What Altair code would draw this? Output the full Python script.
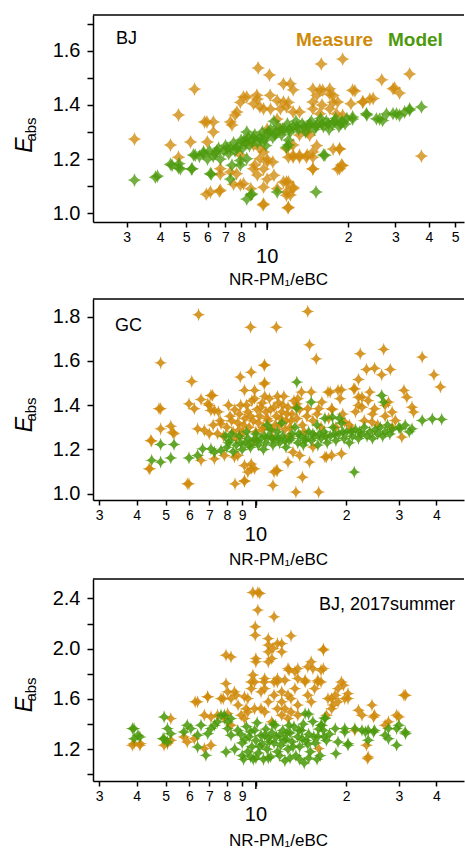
import altair as alt
import pandas as pd

FONT = "Liberation Sans"
ORANGE = "#D08A0A"
GREEN = "#4C9A0C"

# ---------------- Panel 1: BJ ----------------
bj_measure = [
    (3.21, 1.274), (4.37, 1.252), (4.68, 1.363), (5.37, 1.459), (5.19, 1.263), (4.68, 1.207),
    (5.94, 1.070), (6.64, 1.081), (5.85, 1.337), (6.31, 1.337), (6.31, 1.300), (6.69, 1.144),
    (9.26, 1.537), (10.2, 1.511), (9.66, 1.030), (11.96, 1.019), (15.9, 1.552), (19.1, 1.570),
    (26.7, 1.493), (33.9, 1.515), (29.8, 1.463), (31.1, 1.444), (37.5, 1.211), (21.2, 1.452),
    (24.1, 1.422), (22.7, 1.411), (18.6, 1.237), (18.9, 1.178), (18.3, 1.163), (14.8, 1.411),
    (15.7, 1.456), (17.1, 1.440), (16.0, 1.400), (17.6, 1.410), (14.8, 1.163), (11.5, 1.478),
    (12.5, 1.456), (12.0, 1.410), (13.2, 1.374), (9.4, 1.393), (10.3, 1.385), (10.9, 1.348),
    (8.4, 1.430), (9.2, 1.422), (7.95, 1.410), (7.6, 1.363), (7.4, 1.326), (11.2, 1.311),
    (10.0, 1.311), (10.0, 1.200), (10.5, 1.189), (9.7, 1.163), (10.0, 1.126), (9.7, 1.096),
    (12.0, 1.207), (12.5, 1.207), (13.2, 1.207), (14.1, 1.215), (14.8, 1.207), (12.0, 1.115),
    (12.5, 1.096), (12.2, 1.067), (9.0, 1.178), (9.2, 1.141), (7.5, 1.107), (7.95, 1.104),
    (7.3, 1.152), (14.1, 1.300), (13.2, 1.289), (12.5, 1.252), (17.6, 1.237), (8.9, 1.252),
    (9.7, 1.226), (7.95, 1.215), (5.99, 1.263), (5.97, 1.337), (7.72, 1.374), (8.17, 1.430),
    (9.16, 1.436), (8.9, 1.405), (9.7, 1.386), (10.26, 1.436), (10.9, 1.417), (11.5, 1.411),
    (11.2, 1.386), (7.3, 1.337), (6.15, 1.078), (6.7, 1.085), (8.17, 1.109), (8.7, 1.090),
    (9.7, 1.034), (8.9, 1.164), (9.4, 1.201), (10.0, 1.189), (10.6, 1.140), (11.5, 1.115),
    (10.9, 1.090), (11.8, 1.066), (6.7, 1.164), (7.7, 1.146), (8.4, 1.263), (9.4, 1.238),
    (12.2, 1.479), (14.8, 1.460), (15.3, 1.436), (16.1, 1.455), (17.1, 1.460), (17.6, 1.436),
    (18.3, 1.411), (20.8, 1.455), (22.7, 1.411), (24.8, 1.424), (20.5, 1.405), (29.4, 1.460),
    (11.8, 1.393), (12.5, 1.374), (14.8, 1.386), (15.7, 1.368), (17.1, 1.386), (18.1, 1.368),
    (19.1, 1.362), (14.4, 1.288), (11.8, 1.238), (12.5, 1.214), (13.2, 1.214), (14.0, 1.207),
    (14.8, 1.226), (15.3, 1.250), (18.6, 1.238), (19.1, 1.176), (18.6, 1.164), (14.8, 1.164),
    (11.8, 1.115), (12.5, 1.090), (11.8, 1.078), (12.0, 1.022),
]
bj_model = [
    (3.21, 1.122), (3.91, 1.137), (3.84, 1.133), (4.37, 1.181), (4.43, 1.177), (4.68, 1.167),
    (4.7, 1.183), (4.76, 1.164), (5.23, 1.163), (5.26, 1.164), (5.32, 1.215), (5.4, 1.214),
    (5.8, 1.226), (6.2, 1.144), (6.15, 1.146), (7.3, 1.126), (7.4, 1.177), (7.95, 1.195),
    (8.4, 1.201), (8.4, 1.052), (8.7, 1.067), (8.77, 1.071), (7.95, 1.178), (10.9, 1.078),
    (15.2, 1.078), (12.0, 1.252), (11.8, 1.244), (16.2, 1.215), (16.4, 1.214),
    (20.8, 1.348), (20.8, 1.356), (23.5, 1.363), (23.4, 1.368), (25.5, 1.349), (26.2, 1.348),
    (26.9, 1.343), (27.8, 1.367), (29.4, 1.368), (30.3, 1.367), (31.1, 1.362), (32.5, 1.374),
    (33.9, 1.381), (33.9, 1.386), (37.5, 1.393),
    (5.6, 1.21), (5.8, 1.22), (6.0, 1.20), (6.1, 1.23), (6.3, 1.21), (6.4, 1.22), (6.6, 1.24),
    (6.7, 1.20), (6.9, 1.23), (7.0, 1.25), (7.2, 1.22), (7.3, 1.24), (7.5, 1.26), (7.6, 1.23),
    (7.8, 1.25), (8.0, 1.27), (8.1, 1.24), (8.3, 1.26), (8.5, 1.28), (8.6, 1.25), (8.8, 1.27),
    (9.0, 1.29), (9.2, 1.26), (9.4, 1.28), (9.6, 1.30), (9.8, 1.27), (10.0, 1.29), (10.3, 1.31),
    (10.5, 1.28), (10.8, 1.30), (11.0, 1.32), (11.3, 1.29), (11.6, 1.31), (11.9, 1.33),
    (12.2, 1.30), (12.5, 1.32), (12.8, 1.34), (13.1, 1.31), (13.5, 1.33), (13.9, 1.30),
    (14.2, 1.32), (14.6, 1.34), (15.0, 1.31), (15.4, 1.33), (15.8, 1.35), (16.2, 1.32),
    (16.6, 1.34), (17.0, 1.31), (17.5, 1.33), (18.0, 1.35), (18.5, 1.32), (19.0, 1.34),
    (19.5, 1.33), (9.9, 1.25), (10.6, 1.34), (8.4, 1.30), (12.0, 1.27),
    (6.5, 1.23), (7.1, 1.24), (7.7, 1.24), (8.2, 1.27), (8.9, 1.28), (9.5, 1.27), (10.1, 1.30),
    (10.7, 1.29), (11.4, 1.31), (12.1, 1.31), (12.9, 1.32), (13.7, 1.32), (14.4, 1.33),
    (15.2, 1.32), (16.0, 1.33), (16.9, 1.33), (17.8, 1.34), (18.8, 1.33), (19.8, 1.35),
]

# ---------------- Panel 2: GC ----------------
gc_measure = [
    (6.44, 1.808), (9.6, 1.752), (11.7, 1.752), (14.9, 1.823), (15.1, 1.672), (15.9, 1.609),
    (4.81, 1.591), (6.11, 1.507), (4.81, 1.384), (4.81, 1.293), (4.49, 1.238), (4.43, 1.113),
    (5.2, 1.305), (5.33, 1.271), (5.98, 1.406), (6.23, 1.384), (6.56, 1.426), (7.17, 1.444),
    (6.99, 1.399), (7.27, 1.376), (6.39, 1.293), (6.99, 1.271), (5.98, 1.045), (8.52, 1.045),
    (9.16, 1.056), (9.65, 1.135), (9.4, 1.098), (9.9, 1.113), (8.87, 1.527), (9.65, 1.549),
    (9.16, 1.467), (9.9, 1.467), (10.7, 1.582), (10.7, 1.501), (11.5, 1.098), (11.4, 1.038),
    (13.6, 1.008), (14.3, 1.075), (16.2, 1.008), (15.1, 1.143), (17.9, 1.173), (17.2, 1.166),
    (19.3, 1.181), (22.3, 1.632), (26.7, 1.652), (23.4, 1.561), (24.9, 1.567), (28.1, 1.561),
    (26.3, 1.537), (22.0, 1.516), (21.4, 1.474), (35.9, 1.617), (39.3, 1.537), (41.3, 1.482),
    (31.2, 1.467), (31.9, 1.436), (33.2, 1.391), (33.6, 1.369), (30.7, 1.256), (18.8, 1.467),
    (17.4, 1.459), (16.6, 1.414), (17.9, 1.384), (16.2, 1.384), (22.6, 1.436), (23.7, 1.421),
    (22.6, 1.391), (24.9, 1.384), (27.0, 1.399), (28.5, 1.369), (19.8, 1.324), (20.9, 1.293),
    (24.4, 1.324), (14.2, 1.459), (15.3, 1.459), (13.7, 1.406), (14.9, 1.384), (13.3, 1.188),
    (14.0, 1.173), (15.5, 1.211), (11.8, 1.105), (12.8, 1.143), (17.0, 1.166), (5.9, 1.045),
    (9.16, 1.060), (11.7, 1.106), (9.65, 1.113), (9.16, 1.128), (8.7, 1.173), (8.48, 1.166),
    (4.46, 1.241), (4.4, 1.113), (6.56, 1.151), (7.27, 1.158), (7.85, 1.173), (6.73, 1.286),
    (7.45, 1.271), (7.65, 1.316), (7.08, 1.376), (6.91, 1.406), (7.08, 1.444), (4.75, 1.384),
    (5.27, 1.278), (10.66, 1.579), (10.66, 1.496), (24.0, 1.459), (22.0, 1.436), (27.7, 1.414),
    (29.2, 1.331), (22.0, 1.399), (21.2, 1.474), (19.3, 1.469), (19.1, 1.429), (17.7, 1.459),
    (13.8, 1.429),
    (8.0, 1.30), (8.2, 1.35), (8.4, 1.28), (8.5, 1.38), (8.7, 1.32), (8.9, 1.40), (9.0, 1.27),
    (9.2, 1.34), (9.4, 1.37), (9.5, 1.30), (9.7, 1.42), (9.8, 1.33), (10.0, 1.28), (10.1, 1.38),
    (10.3, 1.35), (10.5, 1.41), (10.6, 1.30), (10.8, 1.37), (11.0, 1.33), (11.1, 1.43),
    (11.3, 1.29), (11.5, 1.39), (11.7, 1.35), (11.9, 1.41), (12.0, 1.31), (12.2, 1.37),
    (12.4, 1.44), (12.6, 1.33), (12.8, 1.39), (13.0, 1.30), (13.2, 1.36), (13.4, 1.42),
    (13.7, 1.34), (14.0, 1.38), (14.3, 1.31), (7.6, 1.33), (7.8, 1.26), (8.6, 1.25), (9.9, 1.24),
    (11.4, 1.25), (12.9, 1.26), (14.5, 1.28), (15.5, 1.33), (16.5, 1.30), (17.5, 1.34),
    (18.5, 1.30), (19.5, 1.36), (20.5, 1.31), (21.5, 1.37), (23.0, 1.33), (24.5, 1.36),
    (25.5, 1.31), (27.0, 1.35), (28.5, 1.30), (16.0, 1.36), (18.0, 1.38),
    (8.3, 1.33), (8.8, 1.36), (9.1, 1.31), (9.3, 1.40), (9.6, 1.35), (10.2, 1.32), (10.4, 1.39),
    (10.9, 1.34), (11.2, 1.38), (11.6, 1.31), (12.1, 1.34), (12.3, 1.40), (12.7, 1.36),
    (13.1, 1.33), (13.6, 1.39), (8.1, 1.40), (9.9, 1.43), (10.7, 1.44), (11.8, 1.44),
    (8.8, 1.29), (10.5, 1.29), (12.5, 1.29), (7.2, 1.31), (7.5, 1.37), (14.8, 1.35),
]
gc_model = [
    (4.49, 1.151), (4.81, 1.143), (4.81, 1.223), (5.33, 1.223), (5.2, 1.162), (5.98, 1.162),
    (6.39, 1.173), (6.64, 1.203), (7.08, 1.203), (7.27, 1.188), (7.65, 1.196), (13.7, 1.504),
    (13.7, 1.387), (15.3, 1.414), (26.3, 1.444), (26.7, 1.414), (21.3, 1.098), (35.9, 1.331),
    (38.8, 1.338), (41.7, 1.336), (30.3, 1.293), (33.2, 1.293), (18.0, 1.346),
    (8.0, 1.21), (8.2, 1.24), (8.4, 1.19), (8.6, 1.22), (8.8, 1.26), (9.0, 1.20), (9.2, 1.23),
    (9.4, 1.25), (9.6, 1.21), (9.8, 1.24), (10.0, 1.27), (10.2, 1.22), (10.4, 1.25), (10.6, 1.20),
    (10.8, 1.23), (11.0, 1.26), (11.2, 1.29), (11.4, 1.22), (11.6, 1.25), (11.8, 1.28),
    (12.0, 1.23), (12.3, 1.26), (12.6, 1.21), (12.9, 1.24), (13.2, 1.27), (13.5, 1.30),
    (13.8, 1.23), (14.1, 1.26), (14.4, 1.22), (14.7, 1.25), (15.0, 1.28), (15.3, 1.24),
    (15.7, 1.26), (16.1, 1.22), (16.5, 1.25), (16.9, 1.28), (17.3, 1.23), (17.7, 1.26),
    (18.1, 1.30), (18.5, 1.24), (18.9, 1.27), (19.3, 1.32), (19.7, 1.25), (20.1, 1.28),
    (20.5, 1.23), (21.0, 1.26), (21.5, 1.29), (22.0, 1.25), (22.5, 1.27), (23.0, 1.30),
    (23.5, 1.26), (24.0, 1.28), (24.5, 1.25), (25.0, 1.29), (25.5, 1.27), (26.0, 1.30),
    (26.5, 1.26), (27.0, 1.28), (27.5, 1.31), (28.0, 1.27), (28.5, 1.29), (30.0, 1.30),
    (31.5, 1.31), (32.5, 1.28), (9.3, 1.28), (10.9, 1.31), (12.2, 1.32), (16.0, 1.31),
    (17.0, 1.34), (19.0, 1.34), (7.9, 1.26), (8.3, 1.27),
    (8.1, 1.23), (8.9, 1.23), (9.5, 1.22), (10.1, 1.24), (10.7, 1.26), (11.3, 1.25),
    (11.9, 1.25), (12.5, 1.24), (13.1, 1.25), (13.9, 1.27), (14.6, 1.24), (15.5, 1.27),
    (16.3, 1.27), (17.1, 1.26), (18.3, 1.27), (19.5, 1.28), (20.8, 1.28), (22.2, 1.28),
]

# ---------------- Panel 3: BJ, 2017summer ----------------
s17_measure = [
    (10.15, 2.448), (9.77, 2.448), (10.3, 2.440), (10.15, 2.308), (11.5, 2.254), (13.1, 2.103),
    (9.95, 2.175), (9.95, 2.108), (11.0, 2.081), (11.0, 2.029), (11.4, 2.002), (11.3, 1.922),
    (12.2, 2.041), (12.2, 1.975), (7.95, 1.949), (8.26, 1.935), (10.0, 1.922), (10.0, 1.896),
    (16.8, 1.997), (15.3, 1.896), (14.9, 1.856), (16.8, 1.842), (12.8, 1.842), (13.5, 1.816),
    (6.39, 1.577), (6.90, 1.617), (7.95, 1.723), (8.05, 1.657), (8.48, 1.657), (7.65, 1.603),
    (8.26, 1.603), (8.59, 1.630), (9.4, 1.603), (9.28, 1.523), (9.65, 1.736), (9.77, 1.790),
    (8.72, 1.551), (8.93, 1.471), (10.7, 1.763), (10.7, 1.683), (11.0, 1.577), (10.7, 1.497),
    (10.4, 1.523), (11.8, 1.736), (12.2, 1.657), (12.2, 1.577), (12.5, 1.523), (12.8, 1.630),
    (13.1, 1.603), (12.8, 1.444), (13.1, 1.497), (13.8, 1.551), (13.8, 1.471), (13.8, 1.842),
    (13.8, 1.763), (13.5, 1.683), (14.6, 1.736), (14.9, 1.630), (15.3, 1.577), (15.7, 1.683),
    (16.1, 1.749), (16.5, 1.736), (17.9, 1.603), (18.4, 1.630), (18.8, 1.683), (19.6, 1.710),
    (20.3, 1.603), (17.9, 1.523), (18.8, 1.577), (17.2, 1.471), (16.2, 1.205), (22.6, 1.471),
    (24.4, 1.551), (24.7, 1.457), (27.0, 1.391), (31.2, 1.630), (30.0, 1.457), (23.4, 1.232),
    (23.6, 1.125), (21.4, 1.351), (6.23, 1.284), (5.9, 1.258), (7.08, 1.232), (6.73, 1.205),
    (5.07, 1.245), (4.94, 1.232), (5.2, 1.272), (5.2, 1.444), (3.92, 1.245), (4.12, 1.245),
    (8.26, 1.391), (7.85, 1.444), (7.08, 1.457), (7.45, 1.471), (11.8, 2.041), (16.8, 1.989),
    (15.5, 1.842), (16.5, 1.829), (12.9, 1.829), (12.5, 1.750), (11.8, 1.763), (14.6, 1.750),
    (16.1, 1.736), (19.3, 1.736), (20.3, 1.643), (19.8, 1.603), (17.4, 1.603), (18.1, 1.551),
    (22.0, 1.511), (24.9, 1.471), (29.5, 1.471), (31.6, 1.630), (23.7, 1.139), (27.7, 1.418),
    (3.87, 1.232), (4.1, 1.232), (5.75, 1.298), (6.27, 1.577), (6.91, 1.617), (7.78, 1.603),
    (9.16, 1.617), (9.4, 1.497), (9.16, 1.444), (9.9, 1.523), (9.9, 1.736), (10.66, 1.736),
    (11.5, 1.736), (9.65, 1.683), (10.4, 1.657), (11.5, 1.630), (11.8, 1.523), (11.3, 1.418),
    (12.2, 1.471), (6.73, 1.471), (8.05, 1.484), (11.0, 1.975), (11.0, 1.896),
]
s17_model = [
    (3.92, 1.364), (4.04, 1.312), (3.92, 1.284), (3.87, 1.364), (4.1, 1.298), (4.94, 1.457),
    (5.07, 1.364), (4.94, 1.284), (5.2, 1.324), (4.9, 1.284), (5.07, 1.258), (5.9, 1.391),
    (5.75, 1.338), (6.07, 1.364), (6.39, 1.218), (6.39, 1.312), (6.81, 1.152), (7.95, 1.178),
    (6.56, 1.391), (7.08, 1.364), (7.45, 1.418), (7.85, 1.471), (7.65, 1.471), (8.26, 1.444),
    (8.05, 1.364), (8.05, 1.418), (8.26, 1.312), (7.27, 1.391), (6.91, 1.324),
    (18.4, 1.364), (19.8, 1.338), (18.8, 1.258), (20.3, 1.245), (22.6, 1.351), (23.7, 1.351),
    (24.9, 1.351), (27.0, 1.312), (30.0, 1.391), (29.5, 1.232), (31.5, 1.338), (18.5, 1.165),
    (14.6, 1.484), (17.0, 1.444), (16.5, 1.391), (19.8, 1.364), (20.3, 1.232), (21.4, 1.364),
    (23.2, 1.338), (24.7, 1.338), (27.7, 1.364), (29.5, 1.364), (31.6, 1.324), (27.7, 1.284),
    (23.7, 1.272),
    (8.9, 1.32), (9.0, 1.25), (9.1, 1.12), (9.3, 1.38), (9.4, 1.18), (9.5, 1.30), (9.7, 1.22),
    (9.8, 1.12), (9.9, 1.35), (10.0, 1.27), (10.1, 1.41), (10.2, 1.17), (10.4, 1.31), (10.5, 1.24),
    (10.6, 1.12), (10.8, 1.36), (10.9, 1.20), (11.0, 1.29), (11.2, 1.14), (11.3, 1.33),
    (11.5, 1.25), (11.6, 1.39), (11.8, 1.18), (12.0, 1.31), (12.1, 1.23), (12.3, 1.35),
    (12.5, 1.11), (12.6, 1.28), (12.8, 1.20), (13.0, 1.33), (13.2, 1.26), (13.4, 1.38),
    (13.6, 1.15), (13.8, 1.30), (14.0, 1.22), (14.2, 1.35), (14.5, 1.09), (14.7, 1.27),
    (15.0, 1.32), (15.2, 1.18), (15.5, 1.42), (15.8, 1.25), (16.1, 1.30), (16.4, 1.15),
    (16.8, 1.35), (17.2, 1.27), (17.6, 1.32), (8.5, 1.20), (8.7, 1.35), (9.6, 1.14), (11.4, 1.40),
    (12.9, 1.39), (14.4, 1.40), (16.6, 1.39), (17.0, 1.45), (15.0, 1.48),
    (9.2, 1.28), (9.6, 1.34), (10.3, 1.22), (10.7, 1.31), (11.1, 1.26), (11.7, 1.30),
    (12.4, 1.27), (12.7, 1.33), (13.3, 1.22), (13.9, 1.35), (14.3, 1.28), (14.9, 1.24),
    (15.6, 1.30), (16.2, 1.36), (16.9, 1.30), (9.0, 1.15), (10.0, 1.13), (11.0, 1.13),
    (12.0, 1.15), (13.0, 1.13), (14.0, 1.12), (15.0, 1.13), (16.0, 1.12),
]

# axis tick values / labels
x_ticks_bj = [3, 4, 5, 6, 7, 8, 9, 10, 20, 30, 40, 50]
x_ticks_gc = [3, 4, 5, 6, 7, 8, 9, 10, 20, 30, 40]
y_ticks_bj = [1.0, 1.1, 1.2, 1.3, 1.4, 1.5, 1.6, 1.7]
y_ticks_gc = [1.0, 1.2, 1.4, 1.6, 1.8]
y_ticks_s17 = [1.0, 1.2, 1.4, 1.6, 1.8, 2.0, 2.2, 2.4]

STAR_FAT = "M0,-1 Q0.22,-0.22 1,0 Q0.22,0.22 0,1 Q-0.22,0.22 -1,0 Q-0.22,-0.22 0,-1 Z"
STAR_THIN = "M0,-1 Q0.13,-0.13 1,0 Q0.13,0.13 0,1 Q-0.13,0.13 -1,0 Q-0.13,-0.13 0,-1 Z"

W = 371


def make_panel(meas, mod, xdom, ydom, xticks, yticks, x_label_expr, y_label_expr, h,
               name, name_x, name_y, name_align, star, size, opacity,
               e_y, abs_y, ten_y, title_y, legend=False):
    dm = pd.DataFrame(meas, columns=["x", "y"])
    dg = pd.DataFrame(mod, columns=["x", "y"])
    xs = alt.Scale(type="log", domain=xdom, nice=False)
    ys = alt.Scale(domain=ydom, nice=False, zero=False)
    xaxis = alt.Axis(values=xticks, labelExpr=x_label_expr, title=None, labelFontSize=14,
                     labelPadding=3, tickSize=5, labelFlush=False, labelOverlap=False)
    yaxis = alt.Axis(values=yticks, labelExpr=y_label_expr, title=None, labelFontSize=20,
                     labelPadding=7, tickSize=6, labelOverlap=False)
    X = alt.X("x:Q", scale=xs, axis=xaxis)
    Y = alt.Y("y:Q", scale=ys, axis=yaxis)

    orange = alt.Chart(dm).mark_point(shape=star, filled=True, size=size, opacity=opacity,
                                      color=ORANGE).encode(x=X, y=Y)
    green = alt.Chart(dg).mark_point(shape=star, filled=True, size=size, opacity=opacity,
                                     color=GREEN).encode(x=X, y=Y)

    top = alt.Chart(pd.DataFrame({"a": [0]})).mark_rule(color="black", strokeWidth=1.5).encode(
        x=alt.value(0), x2=alt.value(W), y=alt.value(0))
    tendf = pd.DataFrame({"x": [10], "t": ["10"]})
    ten_tick = alt.Chart(tendf).mark_rule(color="black", strokeWidth=1.5).encode(
        x=X, y=alt.value(h), y2=alt.value(h + 8))
    ten_lab = alt.Chart(tendf).mark_text(font=FONT, fontSize=20, color="black",
                                         baseline="middle").encode(
        x=X, y=alt.value(ten_y), text="t:N")
    xt = alt.Chart(pd.DataFrame({"t": ["NR-PM\u2081/eBC"]})).mark_text(
        font=FONT, fontSize=17, color="black", baseline="middle").encode(
        x=alt.value(W / 2), y=alt.value(title_y), text="t:N")
    e_lab = alt.Chart(pd.DataFrame({"t": ["E"]})).mark_text(
        font=FONT, fontSize=23, fontStyle="italic", color="black", angle=270,
        align="center", baseline="alphabetic").encode(
        x=alt.value(-61), y=alt.value(e_y), text="t:N")
    abs_lab = alt.Chart(pd.DataFrame({"t": ["abs"]})).mark_text(
        font=FONT, fontSize=15, color="black", angle=270,
        align="center", baseline="alphabetic").encode(
        x=alt.value(-57), y=alt.value(abs_y), text="t:N")
    nm = alt.Chart(pd.DataFrame({"t": [name]})).mark_text(
        font=FONT, fontSize=18, color="black", align=name_align,
        baseline="alphabetic").encode(x=alt.value(name_x), y=alt.value(name_y), text="t:N")
    layers = [orange, green, top, ten_tick, ten_lab, xt, e_lab, abs_lab, nm]
    if legend:
        m1 = alt.Chart(pd.DataFrame({"t": ["Measure"]})).mark_text(
            font=FONT, fontSize=19, fontWeight="bold", color=ORANGE, align="left",
            baseline="alphabetic").encode(x=alt.value(203), y=alt.value(30.5), text="t:N")
        m2 = alt.Chart(pd.DataFrame({"t": ["Model"]})).mark_text(
            font=FONT, fontSize=19, fontWeight="bold", color=GREEN, align="left",
            baseline="alphabetic").encode(x=alt.value(295), y=alt.value(30.5), text="t:N")
        layers += [m1, m2]
    return alt.layer(*layers).properties(width=W, height=h)


xl_bj = ("datum.value == 9 || datum.value == 10 ? '' : "
         "(datum.value >= 20 ? format(datum.value / 10, 'd') : format(datum.value, 'd'))")
xl_gc = ("datum.value == 10 ? '' : "
         "(datum.value >= 20 ? format(datum.value / 10, 'd') : format(datum.value, 'd'))")
yl_2 = "round(datum.value * 10) % 2 == 0 ? format(datum.value, '.1f') : ''"
yl_4 = "round(datum.value * 10) % 4 == 0 ? format(datum.value, '.1f') : ''"

p1 = make_panel(bj_measure, bj_model, [2.25, 54], [0.967, 1.733], x_ticks_bj, y_ticks_bj,
                xl_bj, yl_2, 207, "BJ", 23, 29, "left", STAR_FAT, 190, 0.78,
                130, 114.5, 241.5, 265, legend=True)
p2 = make_panel(gc_measure, gc_model, [2.86, 49.5], [0.972, 1.879], x_ticks_gc, y_ticks_gc,
                xl_gc, "format(datum.value, '.1f')", 201, "GC", 22, 32, "left", STAR_THIN, 175,
                0.88, 125.5, 110.5, 236, 261)
p3 = make_panel(s17_measure, s17_model, [2.86, 49.5], [0.947, 2.555], x_ticks_gc, y_ticks_s17,
                xl_gc, yl_4, 202, "BJ, 2017summer", 362, 31, "right", STAR_THIN, 175, 0.88,
                125.5, 110.5, 236, 262)

chart = alt.vconcat(p1, p2, p3, spacing=10).properties(
    padding={"left": 14, "top": 13, "right": 0, "bottom": 0}
).configure_view(stroke=None).configure_axis(
    domainColor="black", domainWidth=1.5, tickColor="black", tickWidth=1.5,
    labelColor="black", labelFont=FONT, grid=False
)

chart.save("out.html", embed_options={"renderer": "svg", "actions": False})
